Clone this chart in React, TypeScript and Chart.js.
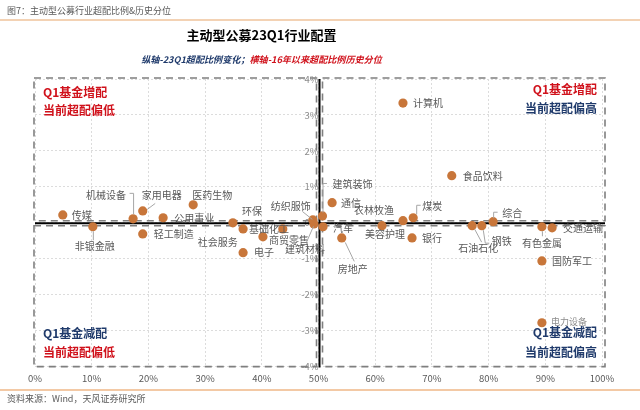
import React, { useEffect, useRef } from "react";
import { Chart, registerables } from "chart.js";

Chart.register(...registerables);

// ---- data ----
const industries = [
  "传媒", "非银金融", "机械设备", "家用电器", "医药生物", "公用事业", "轻工制造", "环保",
  "基础化工", "商贸零售", "社会服务", "电子", "纺织服饰", "建筑材料", "建筑装饰", "汽车",
  "通信", "农林牧渔", "煤炭", "美容护理", "银行", "房地产", "食品饮料", "计算机",
  "石油石化", "钢铁", "综合", "有色金属", "交通运输", "国防军工", "电力设备",
];
// horizontal: percentile of overweight ratio since 2016 (%)
const percentile = [
  4.9, 10.2, 17.3, 19.0, 27.9, 22.6, 19.0, 34.9,
  36.7, 40.2, 43.7, 36.7, 49.0, 49.2, 50.7, 50.8,
  52.4, 64.9, 66.7, 61.2, 66.5, 54.1, 73.5, 64.9,
  77.1, 78.8, 80.8, 89.4, 91.2, 89.4, 89.4,
];
// vertical: change of overweight ratio in 23Q1 (%)
const overweightChange = [
  0.22, -0.11, 0.11, 0.33, 0.50, 0.14, -0.31, 0.0,
  -0.17, -0.39, -0.17, -0.83, 0.08, -0.03, 0.19, -0.11,
  0.56, 0.06, 0.14, -0.08, -0.42, -0.42, 1.31, 3.33,
  -0.08, -0.08, 0.03, -0.11, -0.14, -1.06, -2.78,
];
const xTickValues = [0, 10, 20, 30, 40, 50, 60, 70, 80, 90, 100];
const yTickValues = [-4, -3, -2, -1, 0, 1, 2, 3, 4];

// ---- label placement (style only: offsets from each dot, in px) ----
type LabelPos = { dx: number; dy: number; align: CanvasTextAlign; leader?: number[][]; faint?: boolean };
const labelPos: LabelPos[] = [
  { dx: 9, dy: 0, align: "left" },
  { dx: 2, dy: 19, align: "center", leader: [[0, 4], [0, 13]] },
  { dx: -7, dy: -24, align: "right", leader: [[0, -5], [0, -26], [-4, -26]] },
  { dx: -1, dy: -16, align: "left", leader: [[4, -2], [12, -8]] },
  { dx: -1, dy: -10, align: "left" },
  { dx: 11, dy: 0, align: "left" },
  { dx: 11, dy: 0, align: "left" },
  { dx: 9, dy: -12, align: "left" },
  { dx: 6, dy: 0, align: "left" },
  { dx: 6, dy: 3, align: "left" },
  { dx: -45, dy: 13, align: "right" },
  { dx: 11, dy: 0, align: "left" },
  { dx: -2, dy: -14, align: "right", leader: [[-1, -1], [-11, -9]] },
  { dx: -9, dy: 25, align: "center", leader: [[-1, 2], [-8, 18]] },
  { dx: 10, dy: -32, align: "left", leader: [[0, -4], [0, -33], [4, -33]] },
  { dx: 10, dy: 1, align: "left" },
  { dx: 9, dy: 1, align: "left" },
  { dx: -9, dy: -10, align: "right" },
  { dx: 9, dy: -12, align: "left", leader: [[3, -4], [3, -13], [7, -13]] },
  { dx: 3, dy: 9, align: "center" },
  { dx: 10, dy: 0, align: "left" },
  { dx: 11, dy: 31, align: "center", leader: [[3, 4], [12, 23]] },
  { dx: 11, dy: 0, align: "left" },
  { dx: 10, dy: 0, align: "left" },
  { dx: 6, dy: 23, align: "center", leader: [[2, 3], [9, 16]] },
  { dx: 10, dy: 16, align: "left", leader: [[1, 4], [3, 17], [7, 17]] },
  { dx: 9, dy: -9, align: "left", leader: [[0, -4], [0, -10], [4, -10]] },
  { dx: 0, dy: 16, align: "center", leader: [[0, 4], [0, 9]] },
  { dx: 11, dy: 0, align: "left" },
  { dx: 10, dy: 0, align: "left" },
  { dx: 9, dy: -1, align: "left", faint: true },
];

const CJK = '"Noto Sans CJK SC", "Noto Sans", sans-serif';
const RED = "#d0111b";
const NAVY = "#1f3a6b";
const DOT = "#c8763a";

const quadrantPlugin = {
  id: "quadrants",
  beforeDatasetsDraw(chart: any) {
    const { ctx, chartArea: a, scales } = chart;
    const cx = scales.x.getPixelForValue(50);
    const cy = scales.y.getPixelForValue(0);
    ctx.save();
    // dashed quadrant boxes
    ctx.setLineDash([7, 5]);
    ctx.strokeStyle = "#7f7f7f";
    ctx.lineWidth = 1.6;
    const boxes = [
      [a.left - 1, a.top - 1, cx - 2, cy - 2],
      [cx + 4, a.top - 1, a.right + 3, cy - 2],
      [a.left - 1, cy + 3, cx - 2, a.bottom],
      [cx + 4, cy + 3, a.right + 3, a.bottom],
    ];
    for (const [l, t, r, b] of boxes) {
      ctx.strokeRect(l, t, r - l, b - t);
    }
    // solid centre axes
    ctx.setLineDash([]);
    ctx.strokeStyle = "#000";
    ctx.lineWidth = 2;
    ctx.beginPath();
    ctx.moveTo(cx + 1, a.top);
    ctx.lineTo(cx + 1, a.bottom + 1);
    ctx.moveTo(a.left, cy + 0.5);
    ctx.lineTo(a.right + 3, cy + 0.5);
    ctx.stroke();
    // quadrant captions
    ctx.font = `bold 12px ${CJK}`;
    ctx.textBaseline = "middle";
    ctx.textAlign = "left";
    ctx.fillStyle = RED;
    ctx.fillText("Q1基金增配", a.left + 8, a.top + 13);
    ctx.fillText("当前超配偏低", a.left + 8, a.top + 31);
    ctx.fillStyle = NAVY;
    ctx.fillText("Q1基金减配", a.left + 8, a.bottom - 33);
    ctx.fillStyle = RED;
    ctx.fillText("当前超配偏低", a.left + 8, a.bottom - 14);
    ctx.textAlign = "right";
    ctx.fillStyle = RED;
    ctx.fillText("Q1基金增配", a.right - 5, a.top + 10);
    ctx.fillStyle = NAVY;
    ctx.fillText("当前超配偏高", a.right - 5, a.top + 29);
    ctx.fillText("Q1基金减配", a.right - 5, a.bottom - 34);
    ctx.fillText("当前超配偏高", a.right - 5, a.bottom - 14);
    ctx.restore();
  },
  afterDatasetsDraw(chart: any) {
    const { ctx } = chart;
    const meta = chart.getDatasetMeta(0);
    ctx.save();
    ctx.textBaseline = "middle";
    meta.data.forEach((pt: any, i: number) => {
      const lp = labelPos[i];
      const px = pt.x;
      const py = pt.y;
      if (lp.leader) {
        ctx.strokeStyle = "#a6a6a6";
        ctx.lineWidth = 1;
        ctx.beginPath();
        lp.leader.forEach(([dx, dy], k) => {
          if (k === 0) ctx.moveTo(px + dx + 0.5, py + dy + 0.5);
          else ctx.lineTo(px + dx + 0.5, py + dy + 0.5);
        });
        ctx.stroke();
      }
      ctx.font = lp.faint ? `9px ${CJK}` : `10px ${CJK}`;
      ctx.fillStyle = lp.faint ? "#8c8c8c" : "#595959";
      ctx.textAlign = lp.align;
      ctx.fillText(industries[i], px + lp.dx, py + lp.dy);
    });
    ctx.restore();
  },
};

export default function App() {
  const canvasRef = useRef<HTMLCanvasElement | null>(null);

  useEffect(() => {
    document.body.style.margin = "0";
    const canvas = canvasRef.current;
    if (!canvas) return;
    const chart = new Chart(canvas, {
      type: "scatter",
      data: {
        datasets: [
          {
            data: percentile.map((v, i) => ({ x: v, y: overweightChange[i] })),
            backgroundColor: DOT,
            borderWidth: 0,
            pointRadius: 4.6,
          },
        ],
      },
      options: {
        responsive: false,
        animation: false,
        layout: { padding: { left: 35, right: 38, top: 79, bottom: 20 } },
        plugins: { legend: { display: false }, tooltip: { enabled: false } },
        scales: {
          x: {
            type: "linear",
            min: 0,
            max: 100,
            afterBuildTicks: (s: any) => {
              s.ticks = xTickValues.map((v) => ({ value: v }));
            },
            ticks: {
              callback: (v: any) => `${v}%`,
              color: "#595959",
              font: { size: 9.5, family: CJK },
              padding: 6,
            },
            grid: { color: "#dcdcdc", drawTicks: false, lineWidth: 1 },
            border: { display: false, dash: [2, 2] },
          },
          y: {
            type: "linear",
            min: -4,
            max: 4,
            position: { x: 50 } as any,
            afterBuildTicks: (s: any) => {
              s.ticks = yTickValues.map((v) => ({ value: v }));
            },
            ticks: {
              callback: (v: any) => `${v}%`,
              color: "#8c8c8c",
              font: { size: 9.5, family: CJK },
              padding: 8,
            },
            grid: { color: "#dcdcdc", drawTicks: false, lineWidth: 1 },
            border: { display: false, dash: [2, 2] },
          },
        },
      },
      plugins: [quadrantPlugin],
    });
    return () => chart.destroy();
  }, []);

  return (
    <div style={{ position: "relative", width: 640, height: 410, background: "#fff", fontFamily: CJK, overflow: "hidden" }}>
      <canvas ref={canvasRef} width={640} height={410} style={{ position: "absolute", left: 0, top: 0 }} />
      <div style={{ position: "absolute", left: 7, top: 4, fontSize: 9, color: "#595959", whiteSpace: "nowrap", lineHeight: "13px" }}>
        图7：主动型公募行业超配比例&amp;历史分位
      </div>
      <div style={{ position: "absolute", left: 0, top: 19, width: 640, height: 2, background: "#f3d2b4" }} />
      <div style={{ position: "absolute", left: 0, width: 523, top: 26, textAlign: "center", fontSize: 13, fontWeight: 700, color: "#000", lineHeight: "18px", whiteSpace: "nowrap" }}>
        主动型公募23Q1行业配置
      </div>
      <div style={{ position: "absolute", left: 0, width: 523, top: 52, textAlign: "center", fontSize: 9.1, fontWeight: 700, fontStyle: "italic", lineHeight: "14px", whiteSpace: "nowrap" }}>
        <span style={{ color: NAVY }}>纵轴-23Q1超配比例变化；</span>
        <span style={{ color: RED }}>横轴-16年以来超配比例历史分位</span>
      </div>
      <div style={{ position: "absolute", left: 0, top: 389, width: 640, height: 1.5, background: "#f3c9a5" }} />
      <div style={{ position: "absolute", left: 7, top: 392, fontSize: 9, color: "#595959", whiteSpace: "nowrap", lineHeight: "13px" }}>
        资料来源：Wind，天风证券研究所
      </div>
    </div>
  );
}
